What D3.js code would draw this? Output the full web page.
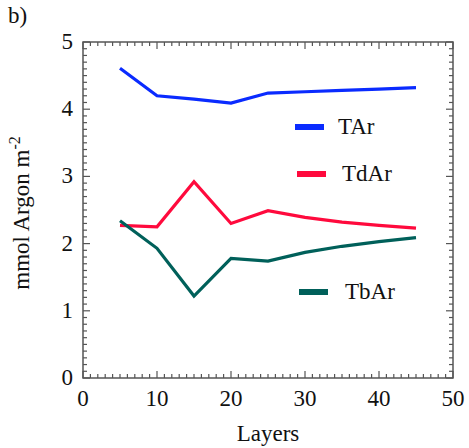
<!DOCTYPE html>
<html><head><meta charset="utf-8">
<script src="https://cdn.jsdelivr.net/npm/d3@7"></script>
</head><body style="margin:0;background:#fff;position:relative">
<div id="lab" style="position:absolute;left:8px;top:3px;font-family:'Liberation Serif';font-size:23px;line-height:26px;color:#111">b)</div>
<svg id="c" width="469" height="448" style="display:block"><text x="-100" y="-100" font-family="Liberation Serif" font-size="23"></text></svg>
<script>
const layers = [5, 10, 15, 20, 25, 30, 35, 40, 45];
const tAr  = [4.61, 4.20, 4.15, 4.09, 4.24, 4.26, 4.28, 4.30, 4.32];
const tdAr = [2.27, 2.25, 2.92, 2.30, 2.49, 2.39, 2.32, 2.27, 2.23];
const tbAr = [2.34, 1.93, 1.22, 1.78, 1.74, 1.87, 1.96, 2.03, 2.09];
const seriesNames = ["TAr", "TdAr", "TbAr"];
const seriesColors = ["#0a2bff", "#ff0a3d", "#00605a"];
const xTicks = [0, 10, 20, 30, 40, 50];
const yTicks = [0, 1, 2, 3, 4, 5];

const svg = d3.select("#c");
const L = 83, R = 453, T = 42, B = 378;
const x = d3.scaleLinear().domain([0, 50]).range([L, R]);
const y = d3.scaleLinear().domain([0, 5]).range([B, T]);
const axisCol = "#555";
const txtCol = "#111";
function txt(sel) { return sel.attr("font-family", "Liberation Serif").attr("fill", txtCol); }

const g = svg.append("g").attr("stroke", axisCol).attr("stroke-width", 1.2);
d3.range(0, 51, 1).forEach(v => {
  const len = v % 10 === 0 ? 7 : 4;
  g.append("line").attr("x1", x(v)).attr("x2", x(v)).attr("y1", B).attr("y2", B - len);
  g.append("line").attr("x1", x(v)).attr("x2", x(v)).attr("y1", T).attr("y2", T + len);
});
d3.range(0, 51, 1).forEach(i => {
  const v = i / 10;
  const len = i % 10 === 0 ? 7 : 4;
  g.append("line").attr("y1", y(v)).attr("y2", y(v)).attr("x1", L).attr("x2", L + len);
  g.append("line").attr("y1", y(v)).attr("y2", y(v)).attr("x1", R).attr("x2", R - len);
});
svg.append("rect").attr("x", L).attr("y", T).attr("width", R - L).attr("height", B - T)
  .attr("fill", "none").attr("stroke", axisCol).attr("stroke-width", 1.5);

txt(svg.selectAll(".xl").data(xTicks).enter().append("text"))
  .attr("x", d => x(d)).attr("y", 406).attr("text-anchor", "middle")
  .attr("font-size", 23).text(d => d);
txt(svg.selectAll(".yl").data(yTicks).enter().append("text"))
  .attr("x", 73).attr("y", d => y(d) + 7).attr("text-anchor", "end")
  .attr("font-size", 23).text(d => d);

txt(svg.append("text")).attr("x", 268).attr("y", 441).attr("text-anchor", "middle")
  .attr("font-size", 23).text("Layers");
const yt = txt(svg.append("text")).attr("transform", "translate(29,213) rotate(-90)")
  .attr("text-anchor", "middle").attr("font-size", 23);
yt.append("tspan").text("mmol Argon m");
yt.append("tspan").attr("dy", -9).attr("font-size", 16).text("-2");

const data = [tAr, tdAr, tbAr];
const line = d3.line().x((d, i) => x(layers[i])).y(d => y(d));
data.forEach((s, k) => {
  svg.append("path").datum(s).attr("d", line).attr("fill", "none")
    .attr("stroke", seriesColors[k]).attr("stroke-width", 3.2)
    .attr("stroke-linejoin", "miter");
});

const leg = [{lx: 295, ly: 127, tx: 338, ty: 134}, {lx: 297, ly: 174, tx: 342, ty: 181}, {lx: 299, ly: 292, tx: 345, ty: 299}];
leg.forEach((p, k) => {
  svg.append("line").attr("x1", p.lx).attr("x2", p.lx + 29).attr("y1", p.ly).attr("y2", p.ly)
    .attr("stroke", seriesColors[k]).attr("stroke-width", 6);
  txt(svg.append("text")).attr("x", p.tx).attr("y", p.ty).attr("font-size", 23).text(seriesNames[k]);
});
</script></body></html>
